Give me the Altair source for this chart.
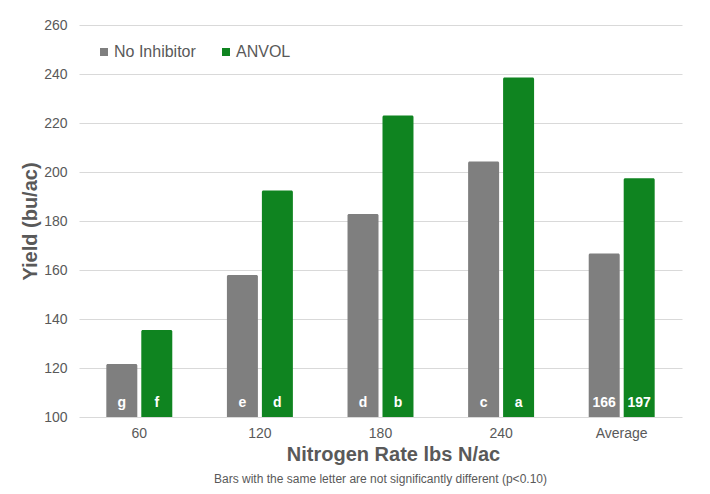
import altair as alt
import pandas as pd

rates = ["60", "120", "180", "240", "Average"]
series = ["No Inhibitor", "ANVOL"]
no_inhibitor = [121.6, 158.0, 182.9, 204.3, 166.7]
anvol = [135.5, 192.4, 223.1, 238.6, 197.4]
no_inhibitor_labels = ["g", "e", "d", "c", "166"]
anvol_labels = ["f", "d", "b", "a", "197"]
colors = ["#7f7f7f", "#0f8420"]
y_ticks = [100, 120, 140, 160, 180, 200, 220, 240, 260]
footnote = "Bars with the same letter are not significantly different (p<0.10)"

rows = []
for i, r in enumerate(rates):
    rows.append({"rate": r, "series": series[0], "yield": no_inhibitor[i], "label": no_inhibitor_labels[i]})
    rows.append({"rate": r, "series": series[1], "yield": anvol[i], "label": anvol_labels[i]})
df = pd.DataFrame(rows)

FONT = "Liberation Sans"
TXT = "#595959"

x = alt.X(
    "rate:N", sort=rates,
    scale=alt.Scale(paddingInner=0.453, paddingOuter=0.2265),
    axis=alt.Axis(
        title="Nitrogen Rate lbs N/ac", labelAngle=0, ticks=False, domain=False,
        labelPadding=9, labelFontSize=14, labelColor=TXT, labelFont=FONT,
        titleFontSize=20, titleFontWeight="bold", titleColor=TXT, titleFont=FONT,
        titlePadding=4, titleX=314,
    ),
)
xo = alt.XOffset("series:N", sort=series, scale=alt.Scale(paddingInner=0.114, paddingOuter=0))
y = alt.Y(
    "yield:Q",
    scale=alt.Scale(domain=[100, 260], zero=False, nice=False),
    axis=alt.Axis(
        title="Yield (bu/ac)", values=y_ticks, ticks=False, domain=False,
        gridColor="#d9d9d9", gridWidth=1,
        labelPadding=12, labelFontSize=14, labelColor=TXT, labelFont=FONT,
        titleFontSize=20, titleFontWeight="bold", titleColor=TXT, titleFont=FONT,
        titlePadding=3,
    ),
)

bars = alt.Chart(df).mark_bar(cornerRadiusTopLeft=1.5, cornerRadiusTopRight=1.5).encode(
    x=x,
    xOffset=xo,
    y=y,
    y2=alt.datum(100),
    color=alt.Color(
        "series:N", sort=series,
        scale=alt.Scale(domain=series, range=colors),
        legend=alt.Legend(
            title=None, orient="none", legendX=17, legendY=19, direction="horizontal",
            symbolType="square", symbolSize=64, symbolStrokeWidth=0,
            labelFontSize=16, labelColor=TXT, labelFont=FONT,
            columnPadding=22, labelOffset=2, padding=0,
        ),
    ),
)

labels = alt.Chart(df).mark_text(
    color="white", fontWeight="bold", fontSize=14, baseline="middle", dy=-14, font=FONT
).encode(
    x=x,
    xOffset=xo,
    y=alt.datum(100),
    text="label:N",
)

chart = alt.layer(bars, labels).properties(
    width=603,
    height=392,
    padding={"left": 71, "top": 17, "right": 20, "bottom": 69},
    autosize=alt.AutoSizeParams(type="none"),
    title=alt.TitleParams(
        footnote, orient="bottom", anchor="middle", fontSize=12, fontWeight="normal",
        color=TXT, font=FONT, offset=10,
    ),
).configure_view(stroke=None)

chart.save("out.html", embed_options={"renderer": "svg", "actions": False})
